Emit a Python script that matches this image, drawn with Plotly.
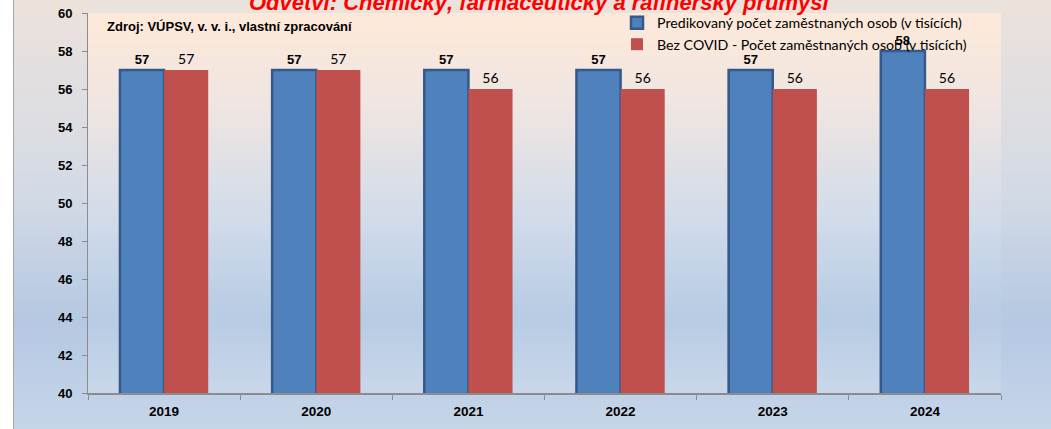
import plotly.graph_objects as go

W, H = 1051, 429
M_L, M_R, M_T, M_B = 88, 50, 13, 36
PW, PH = W - M_L - M_R, H - M_T - M_B

years = ["2019", "2020", "2021", "2022", "2023", "2024"]
predikovany = [57, 57, 57, 57, 57, 58]
bez_covid = [57, 57, 56, 56, 56, 56]

NAME_PRED = "Predikovaný počet zaměstnaných osob (v tisících)"
NAME_BEZ = "Bez COVID - Počet zaměstnaných osob (v tisících)"
TITLE = "Odvětví: Chemický, farmaceutický a rafinérský průmysl"
SOURCE = "Zdroj: VÚPSV, v. v. i., vlastní zpracování"

BLUE = "#4F81BD"
BLUE_EDGE = "#34598A"
RED = "#C0504D"
BOLD_FONT = "Liberation Sans, Arial, sans-serif"
TEXT_FONT = "Lato, Open Sans, sans-serif"


def px_x(p):
    return (p - M_L) / PW


def px_y(p):
    return 1 - (p - M_T) / PH


def hex_rgb(h):
    h = h.lstrip("#")
    return tuple(int(h[i:i + 2], 16) for i in (0, 2, 4))


def gradient_color(stops, t):
    for (t0, c0), (t1, c1) in zip(stops, stops[1:]):
        if t0 <= t <= t1:
            f = (t - t0) / (t1 - t0) if t1 > t0 else 0
            a, b = hex_rgb(c0), hex_rgb(c1)
            rgb = [round(a[i] + (b[i] - a[i]) * f) for i in range(3)]
            return "rgb({},{},{})".format(*rgb)
    return stops[-1][1]


def strips(x0, x1, y0, y1, stops, n=60):
    out = []
    step = (y1 - y0) / n
    for i in range(n):
        top = y0 + i * step
        out.append(dict(
            type="rect", xref="paper", yref="paper", layer="below",
            x0=px_x(x0), x1=px_x(x1),
            y0=px_y(min(top + step + 1, y1)), y1=px_y(top),
            fillcolor=gradient_color(stops, (i + 0.5) / n),
            line=dict(width=0),
        ))
    return out


paper_stops = [(0, "#ECE2DC"), (0.45, "#D3DAE5"), (0.75, "#B5C8E2"), (1.0, "#C6D5E9")]
plot_stops = [(0, "#FDE9D9"), (0.25, "#EFE5E2"), (0.55, "#D0DBEA"), (0.8, "#B7CBE4"), (1.0, "#C9D7EA")]

shapes = strips(14, W, 0, H, paper_stops) + strips(M_L, M_L + PW, M_T, M_T + PH, plot_stops)
shapes.append(dict(type="line", xref="paper", yref="paper", layer="above",
                   x0=px_x(13.5), x1=px_x(13.5), y0=px_y(H), y1=px_y(0),
                   line=dict(color="#A6A6A6", width=1)))

fig = go.Figure()
fig.add_trace(go.Bar(
    x=years, y=predikovany, name=NAME_PRED,
    marker=dict(color=BLUE, line=dict(color=BLUE_EDGE, width=2.5)),
    texttemplate="%{y}", textposition="outside", cliponaxis=False,
    textfont=dict(family=BOLD_FONT, size=13, color="black", weight="bold"),
))
fig.add_trace(go.Bar(
    x=years, y=bez_covid, name=NAME_BEZ,
    marker=dict(color=RED, line=dict(width=0)),
    texttemplate="%{y}", textposition="outside", cliponaxis=False,
    textfont=dict(family=TEXT_FONT, size=14, color="black"),
))

fig.update_layout(
    width=W, height=H,
    margin=dict(l=M_L, r=M_R, t=M_T, b=M_B, autoexpand=False),
    paper_bgcolor="white",
    plot_bgcolor="rgba(0,0,0,0)",
    barmode="group", bargap=0.42, bargroupgap=0,
    shapes=shapes,
    showlegend=True,
    legend=dict(
        x=px_x(617), y=px_y(7), xanchor="left", yanchor="top",
        bgcolor="rgba(0,0,0,0)",
        font=dict(family=TEXT_FONT, size=14.2, color="black"),
        tracegroupgap=0,
    ),
    annotations=[
        dict(text=TITLE, xref="paper", yref="paper", x=px_x(539), y=px_y(3),
             xanchor="center", yanchor="middle", showarrow=False,
             font=dict(family=BOLD_FONT, size=22, color="#FF0000", weight="bold", style="italic")),
        dict(text=SOURCE, xref="paper", yref="paper", x=px_x(105), y=px_y(26),
             xanchor="left", yanchor="middle", showarrow=False,
             font=dict(family=BOLD_FONT, size=13, color="black", weight="bold")),
    ],
)

fig.update_xaxes(
    type="category",
    showline=True, linecolor="#8C8C8C", linewidth=1.5,
    ticks="outside", tickson="boundaries", ticklen=5, tickcolor="#8C8C8C",
    tickfont=dict(family=BOLD_FONT, size=13.5, color="black", weight="bold"),
    ticklabelstandoff=5,
    showgrid=False,
)
fig.update_yaxes(
    range=[40, 60], dtick=2,
    showline=True, linecolor="#8C8C8C", linewidth=1,
    ticks="outside", ticklen=5, tickcolor="#8C8C8C",
    tickfont=dict(family=BOLD_FONT, size=13, color="black", weight="bold"),
    ticklabelstandoff=7,
    showgrid=False, zeroline=False,
)

# the page's default body margin would shift the figure by 8px
fig.write_html("out.html", config={"displayModeBar": False},
               post_script="document.body.style.margin='0';")
